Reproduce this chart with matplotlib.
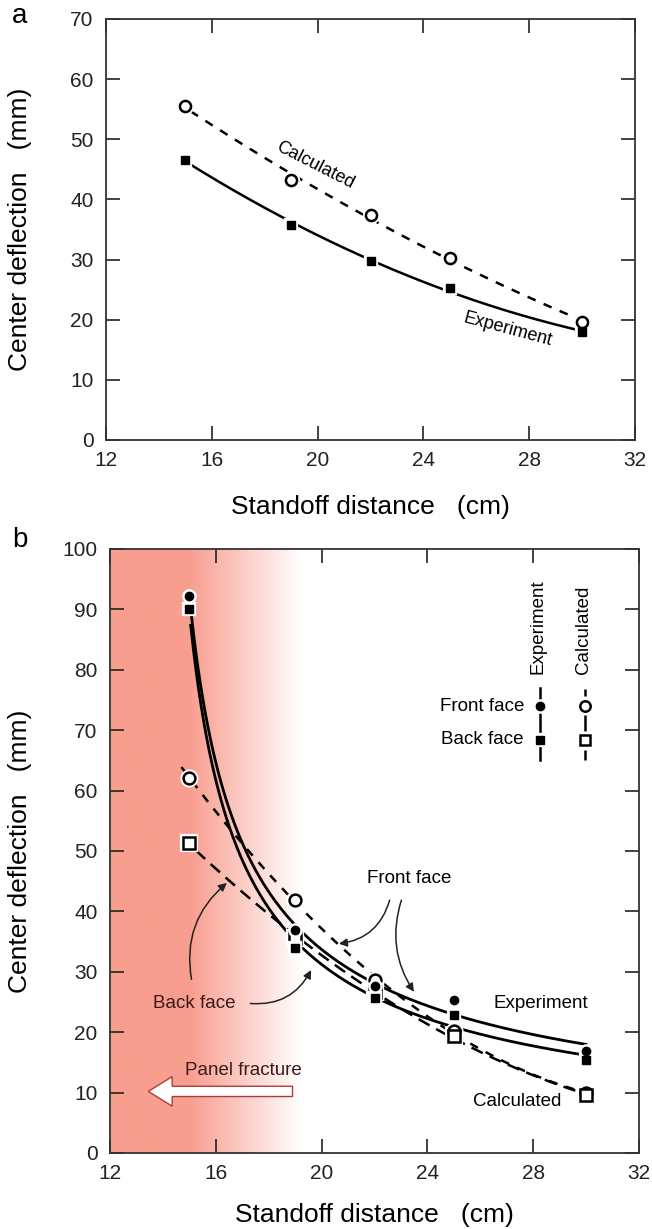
import numpy as np
import matplotlib
matplotlib.use("Agg")
import matplotlib.pyplot as plt
from matplotlib.patches import FancyArrow

plt.rcParams['font.family'] = ['Liberation Sans', 'DejaVu Sans']

# ---------------- data ----------------
standoff = [15, 19, 22, 25, 30]

# panel a
a_experiment = [46.6, 35.7, 29.8, 25.3, 17.9]
a_calculated = [55.6, 43.2, 37.4, 30.2, 19.7]

# panel b
b_exp_front = [92.2, 36.9, 27.6, 25.4, 16.9]
b_exp_back = [90.0, 33.9, 25.6, 22.8, 15.4]
b_calc_front = [62.1, 41.9, 28.6, 20.2, 9.9]
b_calc_back = [51.3, 35.6, 26.7, 19.3, 9.6]

xticks = [12, 16, 20, 24, 28, 32]
a_yticks = [0, 10, 20, 30, 40, 50, 60, 70]
b_yticks = [0, 10, 20, 30, 40, 50, 60, 70, 80, 90, 100]

x = np.array(standoff, dtype=float)


def quad_curve(xs, ys, x0, x1):
    c = np.polyfit(xs, ys, 2)
    xx = np.linspace(x0, x1, 200)
    return xx, np.polyval(c, xx)


def shared_power_fit(xs, series):
    """power-law fits y = A (x - s)^b sharing the same shift s (log-space least squares)"""
    best = None
    for s in np.linspace(8.0, 14.9, 400):
        lx = np.log(xs - s)
        tot = 0.0
        pars = []
        for ys in series:
            ly = np.log(np.asarray(ys, float))
            b, la = np.polyfit(lx, ly, 1)
            tot += np.sum((b * lx + la - ly) ** 2)
            pars.append((b, la))
        if best is None or tot < best[0]:
            best = (tot, s, pars)
    return best[1], best[2]


def style_axes(ax, ylim, yticks):
    ax.set_xlim(12, 32)
    ax.set_ylim(*ylim)
    ax.set_xticks(xticks)
    ax.set_yticks(yticks)
    ax.tick_params(direction='in', length=10, width=1.2, top=True, right=True,
                   labelsize=15, colors='#222222')
    ax.tick_params(axis='x', pad=8)
    ax.tick_params(axis='y', pad=9)
    for sp in ax.spines.values():
        sp.set_linewidth(1.3)
        sp.set_color('#333333')


def halo_marker(ax, xs, ys, marker, ms, filled, zorder=6):
    ax.plot(xs, ys, ls='none', marker=marker, ms=ms, mfc='white', mec='white',
            mew=4.5, zorder=zorder)
    if filled:
        ax.plot(xs, ys, ls='none', marker=marker, ms=ms, mfc='black', mec='black',
                mew=1, zorder=zorder + 1)
    else:
        ax.plot(xs, ys, ls='none', marker=marker, ms=ms, mfc='white', mec='black',
                mew=1.8, zorder=zorder + 1)


fig = plt.figure(figsize=(6.52, 12.29), dpi=100)

# ---------------- panel a ----------------
axa = fig.add_axes([106 / 652, 1 - 440 / 1229, 529 / 652, 421 / 1229])
style_axes(axa, (0, 70), a_yticks)

xx, yy = quad_curve(x, a_experiment, 15, 30)
axa.plot(xx, yy, color='black', lw=1.8, zorder=3)
xx, yy = quad_curve(x, a_calculated, 15.2, 30)
axa.plot(xx, yy, color='black', lw=1.8, ls=(0, (3.5, 3.5)), zorder=3)
halo_marker(axa, x, a_experiment, 's', 6, True)
halo_marker(axa, x, a_calculated, 'o', 8, False)

axa.text(19.9, 45.6, 'Calculated', rotation=-27, fontsize=13,
         ha='center', va='center')
axa.text(27.2, 18.3, 'Experiment', rotation=-15, fontsize=13,
         ha='center', va='center')

axa.set_xlabel('Standoff distance   (cm)', fontsize=19)
axa.set_ylabel('Center deflection   (mm)', fontsize=19)
axa.xaxis.set_label_coords(0.5, -0.13)
axa.yaxis.set_label_coords(-0.14, 0.5)
fig.text(12 / 652, 1 - 16 / 1229, 'a', fontsize=20, ha='left', va='center')

# ---------------- panel b ----------------
axb = fig.add_axes([110 / 652, 1 - 1153 / 1229, 529 / 652, 604 / 1229])
style_axes(axb, (0, 100), b_yticks)

# red gradient background (panel fracture zone)
grad_x = np.linspace(12, 32, 800)
alpha = np.clip((19.2 - grad_x) / (19.2 - 15.0), 0, 1)
red = np.array([248, 158, 143]) / 255.0
img = np.ones((2, grad_x.size, 3))
for k in range(3):
    img[:, :, k] = 1 - alpha * (1 - red[k])
axb.imshow(img, extent=(12, 32, 0, 100), aspect='auto', origin='lower', zorder=0)

s_shift, pars = shared_power_fit(x, [b_exp_front, b_exp_back])
for (bb, la), xstart in zip(pars, [15.0, 15.05]):
    xx = np.linspace(xstart, 30, 300)
    axb.plot(xx, np.exp(la) * (xx - s_shift) ** bb, color='black', lw=2.0, zorder=3)

xx, yy = quad_curve(x, b_calc_front, 14.7, 30.2)
axb.plot(xx, yy, color='black', lw=1.8, ls=(0, (3.5, 3.5)), zorder=3)
xx, yy = quad_curve(x, b_calc_back, 14.7, 30.3)
axb.plot(xx, yy, color='black', lw=1.8, ls=(0, (5, 3)), zorder=3)

halo_marker(axb, x, b_calc_front, 'o', 8.5, False, zorder=5)
halo_marker(axb, x, b_calc_back, 's', 8.5, False, zorder=5)
halo_marker(axb, x, b_exp_front, 'o', 6, True, zorder=8)
halo_marker(axb, x, b_exp_back, 's', 5.5, True, zorder=8)

# legend (hand-drawn style)
axb.plot([28.25, 28.25], [65, 77], color='black', lw=1.8, zorder=4)
for y0, y1 in [(75.6, 76.9), (69.9, 72.5), (65.0, 66.7)]:
    axb.plot([29.95, 29.95], [y0, y1], color='black', lw=1.8, zorder=4,
             solid_capstyle='butt')
halo_marker(axb, [28.25], [74.0], 'o', 6, True, zorder=8)
halo_marker(axb, [28.25], [68.4], 's', 5.5, True, zorder=8)
halo_marker(axb, [29.95], [74.0], 'o', 7.5, False, zorder=8)
halo_marker(axb, [29.95], [68.4], 's', 7.5, False, zorder=8)
axb.text(27.65, 74.0, 'Front face', fontsize=13.5, ha='right', va='center')
axb.text(27.65, 68.4, 'Back face', fontsize=13.5, ha='right', va='center')
axb.text(28.2, 79.3, 'Experiment', fontsize=13.5, rotation=90, ha='center', va='bottom')
axb.text(29.9, 79.3, 'Calculated', fontsize=13.5, rotation=90, ha='center', va='bottom')

# annotations
axb.text(23.3, 45.4, 'Front face', fontsize=13.5, ha='center', va='center')
axb.text(15.2, 24.8, 'Back face', fontsize=13.5, ha='center', va='center',
         color='#3a1a1a')
axb.text(28.3, 24.8, 'Experiment', fontsize=13.5, ha='center', va='center')
axb.text(27.4, 8.6, 'Calculated', fontsize=13.5, ha='center', va='center')

arrow_kw = dict(arrowstyle='-|>', color='#222222', lw=1.1, mutation_scale=12)
axb.annotate('', xy=(20.55, 34.6), xytext=(22.6, 42.3),
             arrowprops=dict(connectionstyle='arc3,rad=-0.35', **arrow_kw), zorder=9)
axb.annotate('', xy=(23.55, 26.3), xytext=(23.05, 42.3),
             arrowprops=dict(connectionstyle='arc3,rad=0.25', **arrow_kw), zorder=9)
axb.annotate('', xy=(16.5, 45.0), xytext=(15.1, 28.3),
             arrowprops=dict(connectionstyle='arc3,rad=-0.3', **arrow_kw), zorder=9)
axb.annotate('', xy=(19.65, 30.7), xytext=(17.2, 24.8),
             arrowprops=dict(connectionstyle='arc3,rad=0.35', **arrow_kw), zorder=9)

# panel fracture arrow
axb.add_patch(FancyArrow(18.9, 10.2, -5.45, 0, width=1.7, head_width=4.9,
                         head_length=0.9, length_includes_head=True,
                         facecolor='white', edgecolor='#b03a3a', lw=1.0, zorder=4))
axb.text(17.05, 13.7, 'Panel fracture', fontsize=13.5, ha='center', va='center',
         color='#3a1a1a')

axb.set_xlabel('Standoff distance   (cm)', fontsize=19)
axb.set_ylabel('Center deflection   (mm)', fontsize=19)
axb.xaxis.set_label_coords(0.5, -0.083)
axb.yaxis.set_label_coords(-0.147, 0.5)
fig.text(12 / 652, 1 - 540 / 1229, 'b', fontsize=20, ha='left', va='center')

fig.savefig('out.png', dpi=100)
